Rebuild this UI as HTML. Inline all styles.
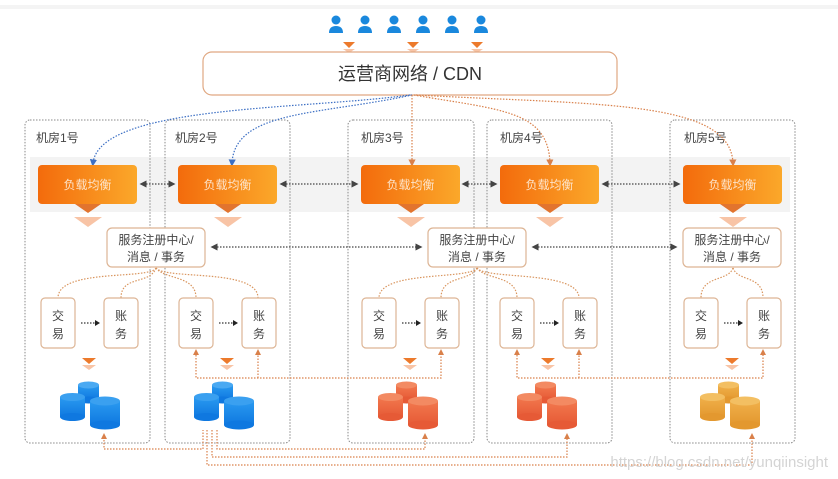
<!DOCTYPE html>
<html><head><meta charset="utf-8"><style>
html,body{margin:0;padding:0;background:#fff;}
svg{display:block;font-family:"Liberation Sans","Noto Sans CJK SC",sans-serif;}
</style></head><body>
<svg width="838" height="479" viewBox="0 0 838 479" xmlns="http://www.w3.org/2000/svg">
<defs>
<linearGradient id="lb" x1="0" x2="1" y1="0" y2="0"><stop offset="0" stop-color="#f36b0c"/><stop offset="1" stop-color="#fba82a"/></linearGradient>
<linearGradient id="blue" x1="0" x2="0" y1="0" y2="1"><stop offset="0" stop-color="#2a9af0"/><stop offset="1" stop-color="#0f78e0"/></linearGradient>
<linearGradient id="red" x1="0" x2="0" y1="0" y2="1"><stop offset="0" stop-color="#f2784e"/><stop offset="1" stop-color="#e65a36"/></linearGradient>
<linearGradient id="gold" x1="0" x2="0" y1="0" y2="1"><stop offset="0" stop-color="#f0b04a"/><stop offset="1" stop-color="#e3982f"/></linearGradient>
<marker id="ao" markerWidth="6" markerHeight="6" refX="3" refY="3" orient="auto"><path d="M0,0 L6,3 L0,6z" fill="#d9804a"/></marker>
<marker id="ab" markerWidth="6" markerHeight="6" refX="3" refY="3" orient="auto"><path d="M0,0 L6,3 L0,6z" fill="#3c6fc4"/></marker>
<marker id="ak" markerWidth="6" markerHeight="6" refX="3" refY="3" orient="auto-start-reverse"><path d="M0,0 L6,3 L0,6z" fill="#444"/></marker>
</defs>
<rect x="0" y="5" width="838" height="4" fill="#f4f4f4"/>
<!-- users -->
<g fill="#1a88dd">
<g id="u"><circle cx="336" cy="20" r="4.5"/><path d="M329,33 Q329,26 336,26 Q343,26 343,33z"/></g>
<use href="#u" x="29"/><use href="#u" x="58"/><use href="#u" x="87"/><use href="#u" x="116"/><use href="#u" x="145"/>
</g>
<g fill="#ec7a2c"><path d="M343,42 h12 l-6,6z M407,42 h12 l-6,6z M471,42 h12 l-6,6z"/></g>
<g fill="#f8c4a6"><path d="M343,49 h12 l-6,4z M407,49 h12 l-6,4z M471,49 h12 l-6,4z"/></g>
<rect x="203" y="52" width="414" height="43" rx="9" fill="#fff" stroke="#e0a882" stroke-width="1.2"/>
<text x="410" y="80" font-size="18" fill="#333" text-anchor="middle">运营商网络 / CDN</text>
<!-- band -->
<rect x="30" y="157" width="760" height="55" fill="#f3f3f3"/>
<!-- rooms -->
<g fill="none" stroke="#888" stroke-width="1" stroke-dasharray="1.5,1.5">
<rect x="25" y="120" width="125" height="323" rx="5"/>
<rect x="165" y="120" width="125" height="323" rx="5"/>
<rect x="348" y="120" width="126" height="323" rx="5"/>
<rect x="487" y="120" width="125" height="323" rx="5"/>
<rect x="670" y="120" width="125" height="323" rx="5"/>
</g>
<g font-size="12" fill="#444">
<text x="36" y="142">机房1号</text><text x="175" y="142">机房2号</text><text x="361" y="142">机房3号</text><text x="500" y="142">机房4号</text><text x="684" y="142">机房5号</text>
</g>
<!-- CDN curves -->
<g fill="none" stroke-width="1.2" stroke-dasharray="1.5,1.5">
<path d="M410,95 C300,110 100,105 93,163" stroke="#3c6fc4" marker-end="url(#ab)"/>
<path d="M412,95 C320,115 235,110 232,163" stroke="#3c6fc4" marker-end="url(#ab)"/>
<path d="M412,95 L412,163" stroke="#d9804a" marker-end="url(#ao)"/>
<path d="M414,95 C500,110 548,110 550,163" stroke="#d9804a" marker-end="url(#ao)"/>
<path d="M416,95 C600,105 730,100 733,163" stroke="#d9804a" marker-end="url(#ao)"/>
</g>
<!-- LB -->
<g id="lbg">
<rect x="38" y="165" width="99" height="39" rx="4" fill="url(#lb)"/>
<text x="87.5" y="189" font-size="12" fill="#fde3c8" text-anchor="middle">负载均衡</text>
<path d="M75,204 h26 l-13,9z" fill="#e2742e"/>
<path d="M74,217 h28 l-14,10z" fill="#f8c4a6"/>
</g>
<use href="#lbg" x="140"/><use href="#lbg" x="323"/><use href="#lbg" x="462"/><use href="#lbg" x="645"/>
<g stroke="#444" stroke-width="1.2" stroke-dasharray="1.5,1.5" marker-start="url(#ak)" marker-end="url(#ak)">
<line x1="143" y1="184" x2="172" y2="184"/><line x1="283" y1="184" x2="355" y2="184"/>
<line x1="465" y1="184" x2="494" y2="184"/><line x1="605" y1="184" x2="677" y2="184"/>
<line x1="214" y1="247" x2="419" y2="247"/><line x1="535" y1="247" x2="674" y2="247"/>
</g>
<!-- registries -->
<g id="rg">
<rect x="107" y="228" width="98" height="39" rx="5" fill="#fff" stroke="#ddb595" stroke-width="1.2"/>
<text x="156" y="244" font-size="12" fill="#444" text-anchor="middle">服务注册中心/</text>
<text x="156" y="261" font-size="12" fill="#444" text-anchor="middle">消息 / 事务</text>
</g>
<use href="#rg" x="321"/><use href="#rg" x="576"/>
<!-- registry to services -->
<g fill="none" stroke="#d9955e" stroke-width="1.2" stroke-dasharray="1.5,1.5">
<path d="M156,268 C150,280 58,268 58,298"/><path d="M156,268 C150,285 121,275 121,298"/>
<path d="M156,268 C165,280 196,275 196,298"/><path d="M156,268 C165,280 258,268 258,298"/>
<path d="M477,268 C470,280 379,270 379,298"/><path d="M477,268 C470,282 441,275 441,298"/>
<path d="M477,268 C485,280 517,275 517,298"/><path d="M477,268 C485,280 579,270 579,298"/>
<path d="M733,268 C728,282 701,275 701,298"/><path d="M733,268 C738,282 763,275 763,298"/>
</g>
<!-- services -->
<g id="sv">
<rect x="41" y="298" width="34" height="50" rx="4" fill="#fff" stroke="#ddb595" stroke-width="1.2"/>
<text x="58" y="320" font-size="12" fill="#444" text-anchor="middle">交</text><text x="58" y="338" font-size="12" fill="#444" text-anchor="middle">易</text>
<rect x="104" y="298" width="34" height="50" rx="4" fill="#fff" stroke="#ddb595" stroke-width="1.2"/>
<text x="121" y="320" font-size="12" fill="#444" text-anchor="middle">账</text><text x="121" y="338" font-size="12" fill="#444" text-anchor="middle">务</text>
<line x1="81" y1="323" x2="96" y2="323" stroke="#333" stroke-width="1.2" stroke-dasharray="1.5,1.5"/>
<path d="M95,320 L100,323 L95,326z" fill="#222"/>
<path d="M82,358 h14 l-7,6z" fill="#ec7a2c"/><path d="M82,365 h14 l-7,5z" fill="#f8c4a6"/>
</g>
<use href="#sv" x="138"/><use href="#sv" x="321"/><use href="#sv" x="459"/><use href="#sv" x="643"/>
<!-- feedback lines -->
<g fill="none" stroke="#d9804a" stroke-width="1.2" stroke-dasharray="1.5,1.5">
<path d="M196,352 V378 H441 V352"/><path d="M258,378 V352"/>
<path d="M517,352 V378 H763 V352"/><path d="M579,378 V352"/>
<path d="M104,437 V449 H203 V430"/>
<path d="M217,430 V449 H425 V437"/>
<path d="M212,430 V457 H567 V437"/>
<path d="M207,430 V465 H752 V437"/>
</g>
<g fill="#d9804a">
<path d="M193,355 l3,-6 l3,6z M255,355 l3,-6 l3,6z M438,355 l3,-6 l3,6z M514,355 l3,-6 l3,6z M576,355 l3,-6 l3,6z M760,355 l3,-6 l3,6z"/>
<path d="M101,439 l3,-6 l3,6z M422,439 l3,-6 l3,6z M564,439 l3,-6 l3,6z M749,439 l3,-6 l3,6z"/>
</g>
<!-- DBs -->
<g id="dbs">
<g><rect x="78" y="385" width="21" height="15" fill="url(#blue)"/><ellipse cx="88.5" cy="385" rx="10.5" ry="3.5" fill="#4aa9f2"/><ellipse cx="88.5" cy="400" rx="10.5" ry="3.5" fill="#0f78e0"/></g>
<g><rect x="60" y="397" width="25" height="20" fill="url(#blue)"/><ellipse cx="72.5" cy="397" rx="12.5" ry="4" fill="#3aa0f0"/><ellipse cx="72.5" cy="417" rx="12.5" ry="4" fill="#0f78e0"/></g>
<g><rect x="90" y="401" width="30" height="24" fill="url(#blue)"/><ellipse cx="105" cy="401" rx="15" ry="4.5" fill="#3aa0f0"/><ellipse cx="105" cy="425" rx="15" ry="4.5" fill="#0f78e0"/></g>
</g>
<use href="#dbs" x="134"/>
<g transform="translate(318,0)">
<g><rect x="78" y="385" width="21" height="15" fill="url(#red)"/><ellipse cx="88.5" cy="385" rx="10.5" ry="3.5" fill="#f38a62"/><ellipse cx="88.5" cy="400" rx="10.5" ry="3.5" fill="#e65a36"/></g>
<g><rect x="60" y="397" width="25" height="20" fill="url(#red)"/><ellipse cx="72.5" cy="397" rx="12.5" ry="4" fill="#f38a62"/><ellipse cx="72.5" cy="417" rx="12.5" ry="4" fill="#e65a36"/></g>
<g><rect x="90" y="401" width="30" height="24" fill="url(#red)"/><ellipse cx="105" cy="401" rx="15" ry="4.5" fill="#f38a62"/><ellipse cx="105" cy="425" rx="15" ry="4.5" fill="#e65a36"/></g>
</g>
<g transform="translate(457,0)">
<g><rect x="78" y="385" width="21" height="15" fill="url(#red)"/><ellipse cx="88.5" cy="385" rx="10.5" ry="3.5" fill="#f38a62"/><ellipse cx="88.5" cy="400" rx="10.5" ry="3.5" fill="#e65a36"/></g>
<g><rect x="60" y="397" width="25" height="20" fill="url(#red)"/><ellipse cx="72.5" cy="397" rx="12.5" ry="4" fill="#f38a62"/><ellipse cx="72.5" cy="417" rx="12.5" ry="4" fill="#e65a36"/></g>
<g><rect x="90" y="401" width="30" height="24" fill="url(#red)"/><ellipse cx="105" cy="401" rx="15" ry="4.5" fill="#f38a62"/><ellipse cx="105" cy="425" rx="15" ry="4.5" fill="#e65a36"/></g>
</g>
<g transform="translate(640,0)">
<g><rect x="78" y="385" width="21" height="15" fill="url(#gold)"/><ellipse cx="88.5" cy="385" rx="10.5" ry="3.5" fill="#f3bf62"/><ellipse cx="88.5" cy="400" rx="10.5" ry="3.5" fill="#e3982f"/></g>
<g><rect x="60" y="397" width="25" height="20" fill="url(#gold)"/><ellipse cx="72.5" cy="397" rx="12.5" ry="4" fill="#f3bf62"/><ellipse cx="72.5" cy="417" rx="12.5" ry="4" fill="#e3982f"/></g>
<g><rect x="90" y="401" width="30" height="24" fill="url(#gold)"/><ellipse cx="105" cy="401" rx="15" ry="4.5" fill="#f3bf62"/><ellipse cx="105" cy="425" rx="15" ry="4.5" fill="#e3982f"/></g>
</g>
<text x="828" y="467" font-size="15" fill="#d4d4d4" text-anchor="end">https://blog.csdn.net/yunqiinsight</text>
</svg>
</body></html>
